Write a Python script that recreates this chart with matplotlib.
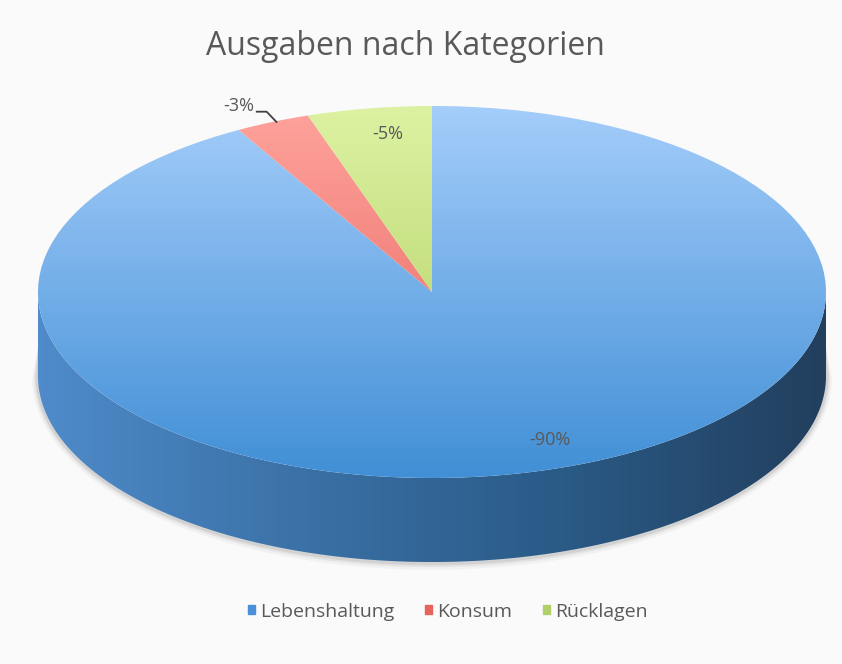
import numpy as np
import matplotlib
matplotlib.use("Agg")
import matplotlib.pyplot as plt
from matplotlib.patches import Polygon
from matplotlib.colors import LinearSegmentedColormap

# Daten
kategorien = ['Lebenshaltung', 'Konsum', 'Rücklagen']
anteile = [90, 3, 5]
beschriftungen = ['-90%', '-3%', '-5%']

# Farben (oben hell, unten dunkel)
farben_oben = ['#a4cdfa', '#ffa39c', '#dcf2a2']
farben_unten = ['#418fd6', '#e2605a', '#accb5c']
farben_legende = ['#4a90d9', '#e8635c', '#afd06a']

W, H = 842, 664
cx, cy = 432, 292      # Mittelpunkt der Oberseite in Pixeln
a, b = 394, 186        # Halbachsen in Pixeln
tiefe = 84 / b         # Dicke in y-Dateneinheiten

plt.rcParams['font.family'] = ['Open Sans', 'DejaVu Sans']

fig = plt.figure(figsize=(W / 100, H / 100), dpi=100, facecolor='#fafafa')
ax = fig.add_axes([0, 0, 1, 1])
ax.set_facecolor('#fafafa')

wedges, _ = ax.pie(anteile, startangle=90, counterclock=False, radius=1,
                   center=(0, 0), frame=True,
                   wedgeprops=dict(linewidth=0, facecolor='none'))

# Achsen so setzen, dass der Kreis zur Ellipse wird (Pixel-Mapping)
ax.set_aspect('auto')
ax.set_xlim(-cx / a, (W - cx) / a)
ax.set_ylim(-(H - cy) / b, cy / b)
ax.axis('off')

# Schatten unter dem Kuchen
t = np.linspace(np.pi, 2 * np.pi, 300)
for dx, alpha in [(6, 0.05), (4, 0.08), (2.5, 0.12)]:
    sx = np.cos(t) * (1 + dx / a)
    sy = np.sin(t) * (1 + dx / b) - tiefe - dx * 0.3 / b
    pts = np.column_stack([np.r_[sx, np.cos(t)[::-1]],
                           np.r_[sy, np.sin(t)[::-1] - 0.3]])
    ax.add_patch(Polygon(pts, closed=True, facecolor='#555555', alpha=alpha,
                         edgecolor='none', zorder=1))

# Seitenflächen (nur vorderer Teil sichtbar)
seite_cmap = LinearSegmentedColormap.from_list(
    'seite', ['#4f8bca', '#3a71a6', '#2a5a86', '#223f5e'])
for w in wedges:
    angs = np.linspace(w.theta1, w.theta2, 600)
    angs = angs[(np.mod(angs, 360) >= 180) & (np.mod(angs, 360) <= 360)]
    if len(angs) < 2:
        continue
    angs = np.sort(np.mod(angs, 360))
    rad = np.deg2rad(angs)
    x = np.cos(rad)
    y = np.sin(rad)
    pts = np.column_stack([np.r_[x, x[::-1]], np.r_[y, y[::-1] - tiefe]])
    poly = Polygon(pts, closed=True, facecolor='none', edgecolor='none', zorder=2)
    ax.add_patch(poly)
    grad = np.linspace(0, 1, 256).reshape(1, -1)
    im = ax.imshow(grad, cmap=seite_cmap, extent=(-1, 1, -1 - tiefe, 0),
                   aspect='auto', zorder=2, interpolation='bicubic')
    im.set_clip_path(poly)

# Oberseite mit Verlauf
for i, w in enumerate(wedges):
    cmap = LinearSegmentedColormap.from_list('o%d' % i, [farben_unten[i], farben_oben[i]])
    grad = np.linspace(0, 1, 256).reshape(-1, 1)
    ax.add_patch(w)
    w.set_zorder(3)
    im = ax.imshow(grad, cmap=cmap, extent=(-1, 1, -1, 1), origin='lower',
                   aspect='auto', zorder=3, interpolation='bicubic')
    im.set_clip_path(w)

# Datenbeschriftungen
txt = dict(color='#595959', fontsize=13, ha='center', va='center', zorder=5)
mitte = [(w.theta1 + w.theta2) / 2 for w in wedges]
# Lebenshaltung: innen unten rechts
r = np.deg2rad(mitte[0])
ax.text(0.82 * np.cos(r) + 0.09, 0.82 * np.sin(r), beschriftungen[0], **txt)
# Rücklagen: innen nahe am Rand
r = np.deg2rad(mitte[2])
ax.text(0.86 * np.cos(r) + 0.025, 0.86 * np.sin(r), beschriftungen[2], **txt)
# Konsum: außen mit Führungslinie
r = np.deg2rad(mitte[1])
ex, ey = np.cos(r), np.sin(r)
ax.plot([ex + 0.01, ex - 0.015, ex - 0.04],
        [ey, ey + 0.055, ey + 0.055],
        color='#404040', lw=1.3, zorder=5)
ax.text(ex - 0.085, ey + 0.085, beschriftungen[1], **txt)

# Titel
fig.text(0.482, 0.93, 'Ausgaben nach Kategorien', ha='center', va='center',
         fontsize=23, color='#595959')

# Legende
handles = [plt.Rectangle((0, 0), 1, 1, color=c) for c in farben_legende]
leg = fig.legend(handles, kategorien, loc='center', bbox_to_anchor=(0.532, 0.079),
                 ncol=3, frameon=False, fontsize=14, handlelength=0.35,
                 handleheight=0.35, handletextpad=0.25, columnspacing=1.6)
for t_ in leg.get_texts():
    t_.set_color('#595959')

fig.savefig('out.png', dpi=100, facecolor=fig.get_facecolor())
